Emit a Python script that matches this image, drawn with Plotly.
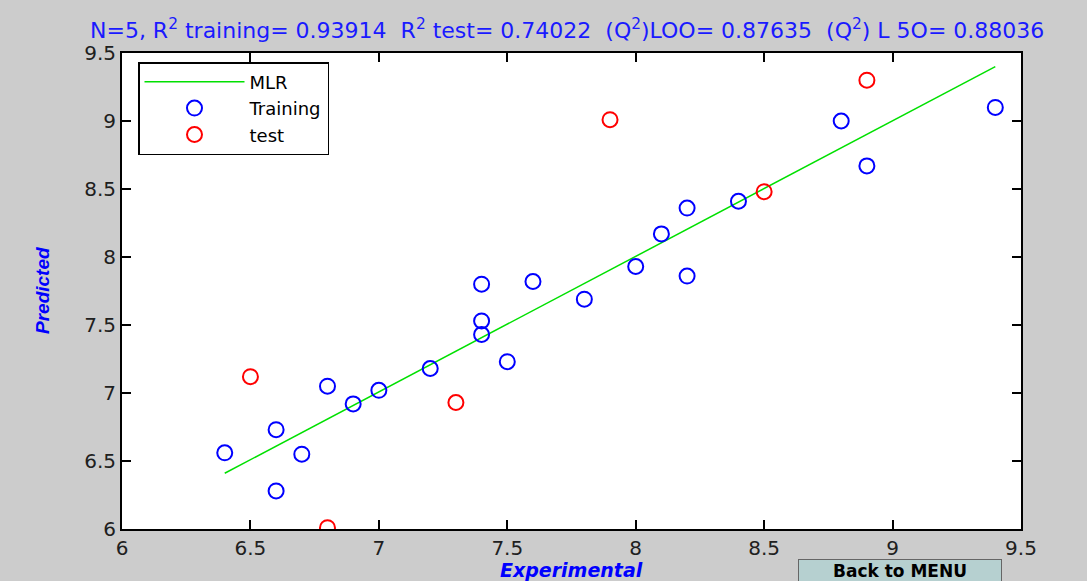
import plotly.graph_objects as go

# MLR fit line endpoints
line_x = [6.4, 9.4]
line_y = [6.41, 9.40]

# Training set
train_exp = [6.4, 6.6, 6.6, 6.7, 6.8, 6.9, 7.0, 7.2, 7.4, 7.4, 7.4, 7.5, 7.6, 7.8, 8.0, 8.1, 8.2, 8.2, 8.4, 8.8, 8.9, 9.4]
train_pred = [6.56, 6.73, 6.28, 6.55, 7.05, 6.92, 7.02, 7.18, 7.80, 7.53, 7.43, 7.23, 7.82, 7.69, 7.93, 8.17, 8.36, 7.86, 8.41, 9.00, 8.67, 9.10]

# Test set
test_exp = [6.5, 6.8, 7.3, 7.9, 8.5, 8.9]
test_pred = [7.12, 6.01, 6.93, 9.01, 8.48, 9.30]

tick_vals = [6, 6.5, 7, 7.5, 8, 8.5, 9, 9.5]
tick_text = ["6", "6.5", "7", "7.5", "8", "8.5", "9", "9.5"]

title_text = ("N=5, R<sup>2</sup> training= 0.93914  R<sup>2</sup> test= 0.74022  "
              "(Q<sup>2</sup>)LOO= 0.87635  (Q<sup>2</sup>) L 5O= 0.88036")

WIDE = "DejaVu Sans, Verdana, sans-serif"
ARIAL = "Liberation Sans, Arial, sans-serif"

fig = go.Figure()
fig.add_trace(go.Scatter(x=line_x, y=line_y, mode="lines", name="MLR",
                         line=dict(color="#00e000", width=1.5)))
fig.add_trace(go.Scatter(x=train_exp, y=train_pred, mode="markers", name="Training",
                         marker=dict(symbol="circle-open", size=15, color="#0000ff",
                                     line=dict(width=2, color="#0000ff"))))
fig.add_trace(go.Scatter(x=test_exp, y=test_pred, mode="markers", name="test",
                         marker=dict(symbol="circle-open", size=15, color="#ff0000",
                                     line=dict(width=2, color="#ff0000"))))

axis_common = dict(range=[6, 9.5], tickvals=tick_vals, ticktext=tick_text,
                   ticks="inside", ticklen=9, tickcolor="black", tickwidth=1.5,
                   showline=True, linecolor="black", linewidth=2, mirror="ticks",
                   showgrid=False, zeroline=False,
                   tickfont=dict(family=WIDE, size=20, color="#202020"))

fig.update_layout(
    width=1087, height=581,
    margin=dict(l=122, r=66, t=53, b=52),
    paper_bgcolor="#cccccc", plot_bgcolor="white",
    xaxis=dict(**axis_common),
    yaxis=dict(**axis_common),
    showlegend=True,
    legend=dict(x=16 / 899, y=1 - 9 / 476, xanchor="left", yanchor="top",
                bgcolor="white", bordercolor="black", borderwidth=1.5,
                font=dict(family=WIDE, size=18, color="black"),
                itemwidth=100, tracegroupgap=0),
    annotations=[
        dict(text=title_text, xref="paper", yref="paper", x=(567 - 122) / 899,
             y=1.0 + 24 / 476,
             xanchor="center", yanchor="middle", showarrow=False,
             font=dict(family=WIDE, size=22, color="#1a1aff")),
        dict(text="<b><i>Predicted</i></b>", xref="paper", yref="paper",
             x=-80 / 899, y=(529 - 291) / 476, xanchor="center", yanchor="middle",
             textangle=-90,
             showarrow=False, font=dict(family=ARIAL, size=19, color="#0000ff")),
        dict(text="<b><i>Experimental</i></b>", xref="paper", yref="paper",
             x=(571 - 122) / 899, y=-(570 - 529) / 476, xanchor="center", yanchor="middle",
             showarrow=False, font=dict(family=WIDE, size=19, color="#0000ff")),
        dict(text="<b>Back to MENU</b>", xref="paper", yref="paper",
             x=(900 - 122) / 899, y=-(571 - 529) / 476, xanchor="center", yanchor="middle",
             showarrow=False, width=200, height=20, bgcolor="#b6d0d0",
             bordercolor="#666666", borderwidth=1, borderpad=1,
             font=dict(family=WIDE, size=17, color="black")),
    ],
)

fig.write_html("out.html")
